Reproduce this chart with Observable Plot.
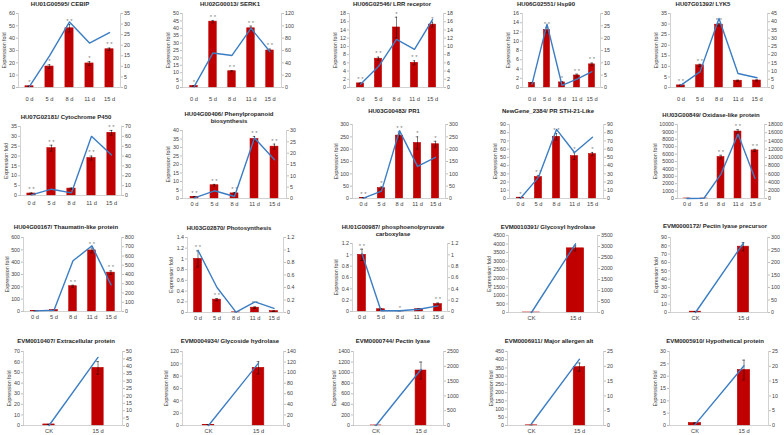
<!DOCTYPE html>
<html><head><meta charset="utf-8">
<script src="https://cdn.jsdelivr.net/npm/d3@7"></script>
<script src="https://cdn.jsdelivr.net/npm/@observablehq/plot@0.6"></script>
<style>
html,body{margin:0;padding:0;background:#fff;}
#fig{position:relative;width:784px;height:435px;overflow:hidden;font-family:"Liberation Sans",Arial,sans-serif;background:#fff;}
.ttl{position:absolute;font-weight:bold;font-size:6px;line-height:6.5px;color:#262626;text-align:center;white-space:nowrap;transform:translate(-50%,-50%);}
#fig svg{position:absolute;}
</style></head><body><div id="fig"></div>
<script>
// ---- data ----
const days = ["0 d","5 d","8 d","11 d","15 d"];
const ckDays = ["CK","15 d"];

const titles = [
 "HU01G00595/ CEBIP","HU02G00013/ SERK1","HU06G02546/ LRR receptor","HU06G02551/ Hsp90","HU07G01392/ LYK5",
 "HU07G02181/ Cytochrome P450","HU04G00406/ Phenylpropanoid\nbiosynthesis","HU03G00483/ PR1","NewGene_2384/ PR STH-21-Like","HU03G00849/ Oxidase-like protein",
 "HU04G00167/ Thaumatin-like protein","HU03G02870/ Photosynthesis","HU01G00987/ phosphoenolpyruvate\ncarboxylase","EVM0010391/ Glycosyl hydrolase","EVM0000172/ Pectin lyase precursor",
 "EVM0010407/ Extracellular protein","EVM0004934/ Glycoside hydrolase","EVM0000744/ Pectin lyase","EVM0006911/ Major allergen alt","EVM0005910/ Hypothetical protein"
];

const barValues = [
 [1,17,48,19.5,31],[1,44.5,11,40,25],[1,7,14.6,6,15.3],[1,12.4,1.1,2.6,5],[1,10.5,29.7,3.2,3.3],
 [1,24,3.5,19,31.8],[1,7.8,3,35,30.5],[2,42,255,225,220],[1,26,75,51.5,54],[1,1,5600,9050,6500],
 [3,12,205,495,315],[1,0.24,0.003,0.09,0.025],[1,0.04,0.005,0.04,0.13],[1,3750],[1,79],
 [1,54.5],[1,93.5],[1,1040],[1,355],[1,22.5]
];
const errValues = [
 [0.3,1.5,3,1.5,1],[0.3,0.8,0.4,1.5,1],[0.1,0.4,2.5,0.5,0.6],[0.1,0.6,0.2,0.3,0.3],[0.2,0.5,0.6,0.3,0.3],
 [0.3,1.5,0.3,1,1.2],[0.2,0.5,0.5,1.5,1.5],[1,5,15,25,12],[0.2,2,4,4,2],[5,5,250,250,150],
 [1,2,8,20,15],[0.15,0.02,0.002,0.015,0.005],[0.1,0.01,0.002,0.01,0.02],[5,150],[0.1,5],
 [0.1,6],[0.1,10],[0.5,160],[0.2,25],[0.05,4]
];
const stars = [
 ["*","*","* *","*","* *"],["*","* *","* *","* *","* *"],["* *","* *","*","* *","*"],["","* *","*","* *","* *"],["* *","* *","* *","",""],
 ["* *","* *","","* *","* *"],["* *","* *","* *","* *","* *"],["* *","*","* *","*","*"],["*","* *","* *","*","*"],["","","* *","* *","* *"],
 ["","","* *","* *","* *"],["* *","* *","","* *",""],["* *","","*","","* *"],["",""],["",""],
 ["",""],["",""],["",""],["",""],["",""]
];
const lineValues = [
 [0.5,15,31,21,26],[1,56,52,96,58],[0.8,5.1,11.7,9.3,16.5],[1.4,25.7,0.9,3.4,6.4],[1.4,9.5,42,8.5,5.9],
 [0.7,6.4,2.7,60,41],[0.3,3.4,0.9,26.7,17.1],[1.4,30,275,130,167],[0.4,25.7,84,56,74.5],[1,60,5950,15700,4890],
 [7,14,548,710,288],[0.995,0.4,0.005,0.17,0.065],[1.02,0.012,0.012,0.04,0.1],[0,3120],[0,278],
 [0,46],[0,118],[0,1890],[0.6,22.4],[0.3,20.2]
];
const leftMax  = [60,50,18,16,35, 35,40,300,90,10000, 600,1.4,1.2,4500,90, 70,120,1400,450,30];
const leftStep = [10,5,2,2,5, 5,5,50,10,1000, 100,0.2,0.2,500,10, 10,20,200,50,5];
const rightMax  = [35,120,18,30,45, 70,30,300,90,18000, 800,1.2,1.2,3500,300, 50,140,2500,25,25];
const rightStep = [5,20,2,5,5, 10,5,50,10,2000, 100,0.2,0.2,500,50, 5,20,500,5,5];

// ---- layout (pixel positions of each panel: left axis, right axis, top, bottom, title x, title y) ----
const layout = [
 [18,120,13,87,60,4],[182,281,13,87,230,4],[349,443,13,87,392,4],[522,600,13,87,546,4],[670,767,13,87,703,4],
 [20,121,126,195,66,117],[182,286,130,198,229,117],[352,445,124,198,394,111],[509,603,124,198,548,111],[677,764,124,198,711,115],
 [23,121,237,311,66,227],[187,283,237,312,229,228],[352,447,243,311,393,230],[508,597,235,312,548,227],[670,767,237,312,715,226],
 [23,122,351,425,66,341],[182,283,351,425,230,341],[353,443,351,425,393,341],[507,603,351,425,549,341],[669,768,351,425,715,341]
];
const xPad = [9,9,9,9,9, 5,3.5,3.5,3.5,3.5, 3.5,3.5,3.5,3.5,3.5, 3.5,3.5,3.5,3.5,3.5];
const barFrac = [0.42,0.42,0.42,0.42,0.42, 0.42,0.42,0.42,0.42,0.42, 0.42,0.42,0.42,0.4,0.24, 0.24,0.24,0.24,0.24,0.26];

// ---- drawing ----
const fig = document.getElementById("fig");
const fmt = d => String(+(+d).toFixed(4));
const tickVals = (max, step) => d3.range(0, max + step / 2, step).map(v => +v.toFixed(4));
const ml = 36, mr = 26, mt = 10, mb = 14;
const FS = 5.3;
const AX = "#bfbfbf", TXT = "#404040";
const FONT = "Liberation Sans, Arial, sans-serif";

titles.forEach((title, i) => {
  const [L, R, T, B, tx, ty] = layout[i];
  const cats = i < 13 ? days : ckDays;
  const w = R - L + ml + mr, h = B - T + mt + mb;
  const step = (R - L) / cats.length;
  const inset = step * (1 - barFrac[i]) / 2;
  const capInset = Math.max(0, step / 2 - 1.6);
  const data = cats.map((c, j) => ({c, v: barValues[i][j], e: errValues[i][j], s: stars[i][j]}));
  const ldata = cats.map((c, j) => ({c, v: lineValues[i][j]}));
  const lt = tickVals(leftMax[i], leftStep[i]);
  const rt = tickVals(rightMax[i], rightStep[i]);
  const maxChars = d3.max(lt, t => fmt(t).length);
  const labelCenter = maxChars * FS * 0.5 + 2 + 1.5 + 4.5;

  const pBars = Plot.plot({
    width: w, height: h, marginLeft: ml, marginRight: mr, marginTop: mt, marginBottom: mb,
    style: {background: "transparent", fontFamily: FONT, color: TXT, overflow: "visible"},
    x: {type: "band", domain: cats, padding: 0, axis: null},
    y: {domain: [0, leftMax[i]], axis: null},
    marks: [
      Plot.barY(data, {x: "c", y: "v", fill: "#c00000", stroke: "#c00000", strokeWidth: 0.6, insetLeft: inset, insetRight: inset}),
      Plot.ruleX(data, {x: "c", y1: d => Math.max(0, d.v - d.e), y2: d => d.v + d.e, stroke: "#000", strokeWidth: 0.5}),
      Plot.tickY(data, {x: "c", y: d => d.v + d.e, stroke: "#000", strokeWidth: 0.5, insetLeft: capInset, insetRight: capInset}),
      Plot.tickY(data.filter(d => d.v - d.e > 0), {x: "c", y: d => d.v - d.e, stroke: "#000", strokeWidth: 0.5, insetLeft: capInset, insetRight: capInset}),
      Plot.text(data, {x: "c", y: d => d.v + d.e, text: "s", dy: -3.5, fontSize: 6, fill: "#808080"}),
      Plot.ruleY([0], {stroke: AX, strokeWidth: 0.7}),
      Plot.frame({anchor: "left", stroke: AX, strokeWidth: 0.7}),
      Plot.axisY({ticks: lt, tickFormat: fmt, tickSize: 2, tickPadding: 1.5, fontSize: FS, stroke: AX, fill: TXT,
        label: "Expression fold", labelAnchor: "center", labelArrow: "none", labelOffset: labelCenter + FS / 2}),
      Plot.axisX({tickSize: 0, tickPadding: xPad[i], fontSize: FS + 0.4, fill: TXT, label: null})
    ]
  });

  const pLine = Plot.plot({
    width: w, height: h, marginLeft: ml, marginRight: mr, marginTop: mt, marginBottom: mb,
    style: {background: "transparent", fontFamily: FONT, color: TXT, overflow: "visible"},
    x: {type: "band", domain: cats, padding: 0, axis: null},
    y: {domain: [0, rightMax[i]], axis: null},
    marks: [
      Plot.line(ldata, {x: "c", y: "v", stroke: "#3b7dc4", strokeWidth: 1.4}),
      Plot.frame({anchor: "right", stroke: AX, strokeWidth: 0.7}),
      Plot.axisY({anchor: "right", ticks: rt, tickFormat: fmt, tickSize: 2, tickPadding: 1.5, fontSize: FS, stroke: AX, fill: TXT, label: null})
    ]
  });

  for (const s of [pBars, pLine]) {
    s.style.position = "absolute";
    s.style.left = (L - ml) + "px";
    s.style.top = (T - mt) + "px";
    s.style.maxWidth = "none";
    fig.appendChild(s);
  }

  const t = document.createElement("div");
  t.className = "ttl";
  t.style.left = tx + "px";
  t.style.top = ty + "px";
  title.split("\n").forEach((line, k) => {
    if (k) t.appendChild(document.createElement("br"));
    t.appendChild(document.createTextNode(line));
  });
  fig.appendChild(t);
});
</script></body></html>
